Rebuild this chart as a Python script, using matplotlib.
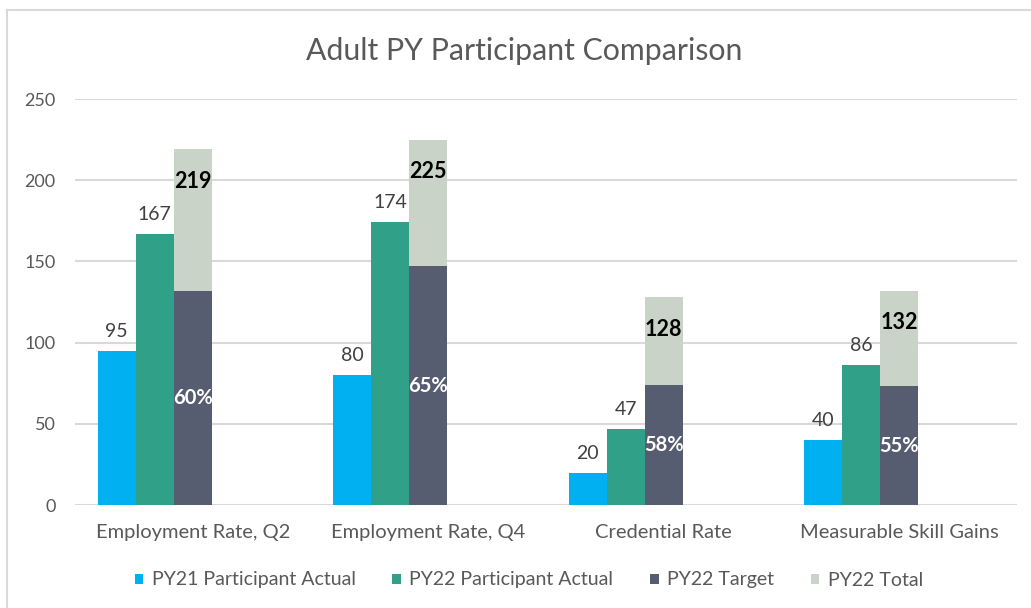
import matplotlib
matplotlib.use("Agg")
import matplotlib.pyplot as plt
from matplotlib.patches import Patch
from matplotlib.lines import Line2D
import numpy as np

categories = ["Employment Rate, Q2", "Employment Rate, Q4", "Credential Rate", "Measurable Skill Gains"]
py21_actual = [95, 80, 20, 40]
py22_actual = [167, 174, 47, 86]
py22_target = [132, 147, 74, 73]
py22_total = [219, 225, 128, 132]
series_names = ["PY21 Participant Actual", "PY22 Participant Actual", "PY22 Target", "PY22 Total"]
y_ticks = [0, 50, 100, 150, 200, 250]

colors = ["#00B0F0", "#31A088", "#575D70", "#CAD3C7"]
FONT = "Lato"
TXT = "#595959"

plt.rcParams["font.family"] = [FONT, "DejaVu Sans"]

fig = plt.figure(figsize=(10.31, 6.08), dpi=100)
W, H = 1031, 608
ax = fig.add_axes([75 / W, 1 - 505 / H, (1017 - 75) / W, (505 - 99) / H])

x = np.arange(len(categories))
w = 0.1615

b1 = ax.bar(x - 2 * w, py21_actual, w, color=colors[0], zorder=3)
b2 = ax.bar(x - w, py22_actual, w, color=colors[1], zorder=3)
b3 = ax.bar(x, py22_target, w, color=colors[2], zorder=3)
rest = [t - g for t, g in zip(py22_total, py22_target)]
b4 = ax.bar(x, rest, w, bottom=py22_target, color=colors[3], zorder=3)

for bars, vals in ((b1, py21_actual), (b2, py22_actual)):
    for r, v in zip(bars, vals):
        ax.annotate(str(v), (r.get_x() + r.get_width() / 2, r.get_height()),
                    xytext=(0, 14), textcoords="offset points",
                    ha="center", va="center", fontsize=14, color="#404040", zorder=5)

for r, tot, tgt in zip(b4, py22_total, py22_target):
    cx = r.get_x() + r.get_width() / 2
    ax.annotate(str(tot), (cx, tot), xytext=(0, -23), textcoords="offset points",
                ha="center", va="center", fontsize=15.5, fontweight="bold",
                color="black", zorder=5)
    ax.text(cx, tgt / 2, f"{round(100 * tgt / tot)}%", ha="center", va="center",
            fontsize=14.5, fontweight="bold", color="white", zorder=5)

ax.set_xlim(-0.5, len(categories) - 0.5)
ax.set_ylim(0, 250)
ax.set_yticks(y_ticks)
ax.set_xticks(x)
ax.set_xticklabels(categories)
ax.tick_params(axis="both", length=0, labelcolor=TXT)
ax.tick_params(axis="y", pad=14, labelsize=13)
ax.tick_params(axis="x", pad=14, labelsize=14.5)
ax.grid(axis="y", color="#D9D9D9", linewidth=1.5, zorder=0)
ax.set_axisbelow(True)
for s in ax.spines.values():
    s.set_visible(False)

fig.text(524 / W, 1 - 51 / H, "Adult PY Participant Comparison", ha="center",
         va="center", fontsize=21.8, color=TXT)

handles = [Patch(facecolor=c, edgecolor="none") for c in colors]
leg = fig.legend(handles, series_names, loc="center", bbox_to_anchor=(529 / W, 1 - 580 / H),
                 ncol=4, frameon=False, fontsize=14, handlelength=0.42, handleheight=0.42,
                 handletextpad=0.45, columnspacing=1.9)
for t in leg.get_texts():
    t.set_color(TXT)

fig.add_artist(Line2D([7 / W, 1], [1 - 10 / H, 1 - 10 / H], transform=fig.transFigure,
                      color="#D9D9D9", linewidth=1.5))
fig.add_artist(Line2D([7 / W, 7 / W], [0, 1 - 10 / H], transform=fig.transFigure,
                      color="#D9D9D9", linewidth=1.5))

fig.savefig("out.png", dpi=100)
